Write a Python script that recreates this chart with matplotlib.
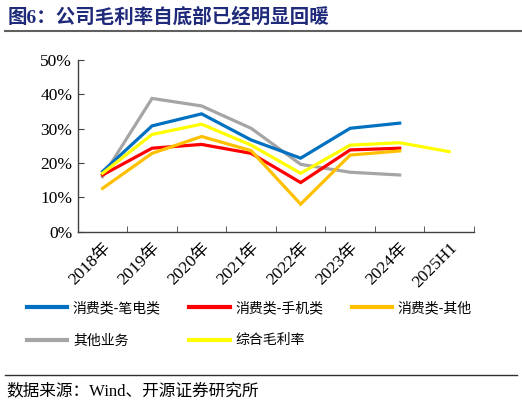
import numpy as np
import matplotlib.pyplot as plt
from matplotlib.lines import Line2D

plt.rcParams['font.family'] = ['Liberation Serif', 'Noto Sans CJK SC', 'DejaVu Sans']

# data (gross margin, %)
years = ['2018年', '2019年', '2020年', '2021年', '2022年', '2023年', '2024年', '2025H1']
laptop = [17.5, 30.8, 34.3, 26.7, 21.4, 30.1, 31.6]
phone = [16.5, 24.3, 25.4, 22.8, 14.3, 23.8, 24.3]
other_consumer = [12.6, 22.8, 27.7, 23.6, 8.0, 22.3, 23.5]
other_biz = [16.0, 38.8, 36.6, 30.1, 19.6, 17.3, 16.5]
overall = [17.0, 28.3, 31.3, 25.2, 17.0, 25.2, 25.9, 23.3]

names = ['消费类-笔电类', '消费类-手机类', '消费类-其他', '其他业务', '综合毛利率']
colors = ['#0070C0', '#FF0000', '#FFC000', '#A5A5A5', '#FFFF00']

fig = plt.figure(figsize=(5.22, 4.05), dpi=100)
ax = fig.add_axes([0.149, 0.428, 0.759, 0.424])

series = [laptop, phone, other_consumer, other_biz, overall]
# draw order: grey at the back, yellow in front of grey
order = [3, 0, 1, 2, 4]
for i in order:
    s = series[i]
    ax.plot(np.arange(len(s)), s, color=colors[i], lw=2.3, solid_joinstyle='miter')

ax.set_xlim(-0.5, len(years) - 0.5)
ax.set_ylim(0, 50)
ax.set_yticks(np.arange(0, 51, 10))
ax.set_yticklabels([f'{v}%' for v in range(0, 51, 10)], fontsize=12.5)
ax.set_xticks(np.arange(len(years)))
ax.set_xticklabels(years, rotation=45, ha='right', va='top', rotation_mode='anchor', fontsize=12.5)
ax.set_xticks(np.arange(-0.5, len(years)), minor=True)
ax.tick_params(axis='x', which='major', length=0, pad=6)
ax.tick_params(axis='x', which='minor', direction='in', length=4, color='#404040')
ax.tick_params(axis='y', direction='in', length=4, color='#404040', pad=4)
for sp in ['top', 'right']:
    ax.spines[sp].set_visible(False)
for sp in ['left', 'bottom']:
    ax.spines[sp].set_color('#404040')
    ax.spines[sp].set_linewidth(1.0)

handles = [Line2D([], [], color=c, lw=3) for c in colors]
idx = [0, 3, 1, 4, 2]
fig.legend([handles[i] for i in idx], [names[i] for i in idx], ncol=3,
           loc='upper left', bbox_to_anchor=(0.052, 0.256), frameon=False,
           prop={'family': ['Noto Sans CJK SC'], 'size': 10},
           handlelength=2.9, handletextpad=0.4, columnspacing=2.05, labelspacing=1.3,
           borderaxespad=0, borderpad=0)

fig.text(0.015, 0.958, '图6：公司毛利率自底部已经明显回暖', fontsize=14, fontweight='bold',
         color='#1F2A7A', va='center', ha='left')
fig.add_artist(Line2D([0.01, 1.0], [0.923, 0.923], color='#606060', lw=1.5))
fig.add_artist(Line2D([0.01, 0.99], [0.074, 0.074], color='#303030', lw=1.0))
fig.text(0.013, 0.033, '数据来源：Wind、开源证券研究所', fontsize=12, va='center', ha='left')

fig.savefig('out.png', dpi=100)
